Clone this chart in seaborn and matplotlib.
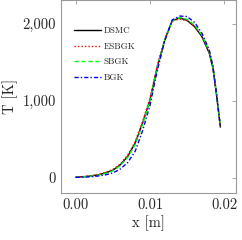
import matplotlib
matplotlib.use("Agg")
import matplotlib.pyplot as plt
import matplotlib.ticker as mticker
import seaborn as sns
import pandas as pd

# position along the domain [m]
x_m = [0.0, 0.001, 0.002, 0.003, 0.004, 0.005, 0.006, 0.007, 0.008, 0.009, 0.010,
       0.011, 0.012, 0.013, 0.014, 0.015, 0.016, 0.017, 0.018, 0.0185, 0.019, 0.0195]

# temperature profiles [K]
t_dsmc = [10, 15, 25, 40, 65, 100, 170, 280, 450, 710, 1010,
          1445, 1790, 2040, 2075, 2045, 1965, 1835, 1620, 1420, 1060, 660]
t_esbgk = [12, 18, 28, 45, 72, 110, 180, 295, 470, 730, 1030,
           1460, 1800, 2035, 2062, 2040, 1970, 1845, 1630, 1430, 1070, 670]
t_sbgk = [10, 14, 22, 36, 58, 92, 160, 265, 430, 690, 1000,
          1440, 1790, 2040, 2080, 2060, 1985, 1855, 1640, 1440, 1080, 670]
t_bgk = [8, 10, 15, 25, 40, 65, 115, 200, 345, 610, 940,
         1400, 1780, 2050, 2100, 2095, 2020, 1880, 1660, 1450, 1080, 660]

labels = ["DSMC", "ESBGK", "SBGK", "BGK"]
series = [t_dsmc, t_esbgk, t_sbgk, t_bgk]
colors = ["black", "red", "#00ff00", "blue"]
styles = ["-", (0, (1, 1.5)), (0, (3, 2)), (0, (3, 1.5, 1, 1.5))]

sns.set_style("white")
plt.rcParams["font.family"] = ["cmr10", "DejaVu Serif"]
plt.rcParams["axes.formatter.use_mathtext"] = True
plt.rcParams["mathtext.fontset"] = "cm"

fig = plt.figure(figsize=(2.42, 2.40), dpi=100)
ax = fig.add_axes([0.252, 0.196, 0.723, 0.806])

for lab, t, c, ls in zip(labels, series, colors, styles):
    df = pd.DataFrame({"x": x_m, "T": t})
    sns.lineplot(data=df, x="x", y="T", ax=ax, color=c, linestyle=ls,
                 linewidth=1.0, label=lab)

ax.set_xlim(-0.002, 0.0216)
ax.set_ylim(-195, 2315)
ax.set_xticks([0.0, 0.01, 0.02])
ax.set_yticks([0, 1000, 2000])
ax.xaxis.set_major_formatter(mticker.FormatStrFormatter("%.2f"))
ax.yaxis.set_major_formatter(mticker.FuncFormatter(lambda v, p: f"{int(v):,}"))
ax.set_xlabel("x [m]", fontsize=10.5, labelpad=3)
ax.set_ylabel("T [K]", fontsize=10.5, labelpad=3)

for s in ax.spines.values():
    s.set_color("#999999")
    s.set_linewidth(0.8)
ax.tick_params(direction="in", length=3, width=0.6, color="#999999",
               labelsize=10.5, top=True, right=True, pad=3.5)

leg = ax.legend(loc="upper left", bbox_to_anchor=(0.03, 0.90), frameon=False,
                fontsize=6.5, handlelength=2.9, labelspacing=0.78, handletextpad=0.35)

fig.savefig("out.png", dpi=100)
